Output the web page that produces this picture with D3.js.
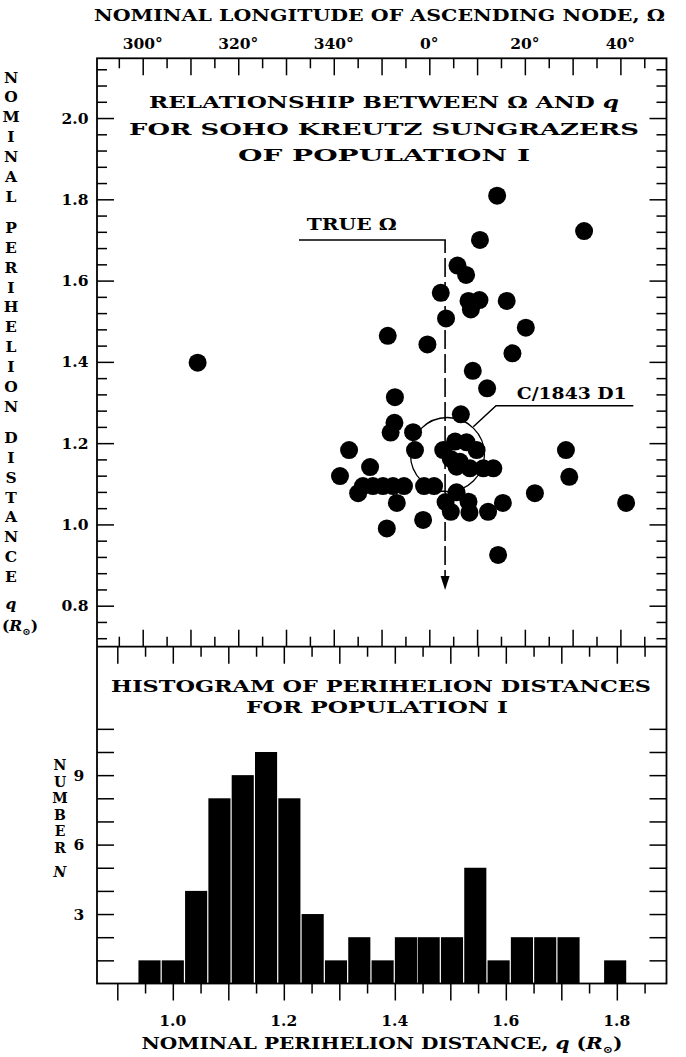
<!DOCTYPE html>
<html><head><meta charset="utf-8">
<script src="https://cdn.jsdelivr.net/npm/d3@7"></script>
<style>
body{margin:0;background:#fff}
text{font-family:"DejaVu Serif",serif;font-weight:bold;fill:#000}
</style></head>
<body><svg id="c" width="686" height="1057"></svg>
<script>
// ---------- DATA ----------
// Scatter: nominal longitude of ascending node (deg) and nominal perihelion distance (R_sun)
const nodeLongitude = [14.2, 32.4, 10.6, 5.9, 7.7, 2.4, 8.2, 10.5, 8.7, 16.2, 3.5, 20.2, 351.3, 359.6, 17.4, 9.1, 311.5, 12.1, 352.8, 6.6,
  352.7, 351.9, 356.6, 343.2, 357.0, 2.9, 5.4, 7.8, 9.9, 4.5, 6.4, 5.7, 8.5, 11.3, 13.4, 28.6, 29.3, 22.1, 15.4, 12.3,
  41.2, 14.4, 341.3, 347.6, 346.1, 348.2, 350.3, 352.4, 354.7, 358.9, 1.0, 345.1, 353.2, 358.7, 351.1, 5.7, 3.4, 8.2, 4.5, 8.4];
const perihelionQ = [1.809, 1.722, 1.700, 1.637, 1.614, 1.570, 1.550, 1.552, 1.529, 1.550, 1.507, 1.484, 1.464, 1.443, 1.421, 1.378, 1.398, 1.335, 1.313, 1.271,
  1.250, 1.226, 1.227, 1.183, 1.183, 1.183, 1.204, 1.202, 1.183, 1.161, 1.154, 1.142, 1.138, 1.138, 1.138, 1.183, 1.117, 1.077, 1.053, 1.031,
  1.053, 0.925, 1.119, 1.141, 1.0945, 1.0945, 1.0945, 1.0945, 1.0945, 1.0945, 1.0945, 1.077, 1.053, 1.011, 0.990, 1.079, 1.055, 1.056, 1.031, 1.029];
// Histogram of perihelion distances
const binStart = [0.937, 0.979, 1.021, 1.063, 1.105, 1.147, 1.189, 1.231, 1.273, 1.315, 1.357, 1.399, 1.440, 1.482, 1.524, 1.566, 1.608, 1.650, 1.692, 1.734, 1.776];
const binWidth = 0.042;
const binCounts = [1, 1, 4, 8, 9, 10, 8, 3, 1, 2, 1, 2, 2, 2, 5, 1, 2, 2, 2, 0, 1];
// Tick labels
const omegaTickValues = [300, 320, 340, 360, 380, 400];
const omegaTickLabels = ["300°", "320°", "340°", "0°", "20°", "40°"];
const qTickValues = [2.0, 1.8, 1.6, 1.4, 1.2, 1.0, 0.8];
const qTickLabels = ["2.0", "1.8", "1.6", "1.4", "1.2", "1.0", "0.8"];
const histXTickValues = [1.0, 1.2, 1.4, 1.6, 1.8];
const histXTickLabels = ["1.0", "1.2", "1.4", "1.6", "1.8"];
const countTickValues = [9, 6, 3];
const countTickLabels = ["9", "6", "3"];
// Annotations
const trueOmega = 3.3;
const c1843 = {omega: 3.8, q: 1.172};

// ---------- LAYOUT ----------
const svg = d3.select("#c");
const L = 97, R = 666.5, T = 58.3, M = 646.7, B = 983.5;
const unwrap = d => d < 180 ? d + 360 : d;
const x = d3.scaleLinear().domain([290.433, 409.651]).range([L, R]);
const y = d3.scaleLinear().domain([0.6991, 2.147]).range([M, T]);
const xh = d3.scaleLinear().domain([0.8634, 1.8895]).range([L, R]);
const yh = d3.scaleLinear().domain([0, 14.548]).range([B, M]);

const MAJ = 17, MIN = 10;
function ticks(axisFn, scale, vals, size, tr) {
  const g = svg.append("g").attr("transform", tr)
    .call(axisFn(scale).tickValues(vals).tickSize(size).tickFormat(""));
  g.select(".domain").remove();
  g.selectAll("line").attr("stroke", "#000").attr("stroke-width", 1.5);
  g.selectAll("text").remove();
}
const r2 = v => Math.round(v * 1000) / 1000;
const omMaj = d3.range(300, 410, 10);
const omMin = d3.range(295, 410, 10);
const qAll = d3.range(0.72, 2.14, 0.04).map(r2);
const qMaj = qAll.filter(v => Math.abs(v * 5 - Math.round(v * 5)) < 1e-6);
const qMin = qAll.filter(v => !qMaj.includes(v));
const hMaj = d3.range(0.9, 1.86, 0.1).map(r2);
const hMin = d3.range(0.95, 1.87, 0.1).map(r2);
const cTicks = d3.range(1, 12);

// histogram bars
svg.append("g").selectAll("rect").data(binStart).join("rect")
  .attr("x", (d) => xh(d) + 0.6)
  .attr("width", d => xh(d + binWidth) - xh(d) - 1.2)
  .attr("y", (d, i) => yh(binCounts[i]))
  .attr("height", (d, i) => B - yh(binCounts[i]))
  .attr("fill", "#000");

// top panel ticks
ticks(d3.axisBottom, x, omMaj, MAJ, `translate(0,${T})`);
ticks(d3.axisBottom, x, omMin, MIN, `translate(0,${T})`);
ticks(d3.axisTop, x, omMaj, MAJ, `translate(0,${M})`);
ticks(d3.axisTop, x, omMin, MIN, `translate(0,${M})`);
ticks(d3.axisRight, y, qMaj, MAJ, `translate(${L},0)`);
ticks(d3.axisRight, y, qMin, MIN, `translate(${L},0)`);
ticks(d3.axisLeft, y, qMaj, MAJ, `translate(${R},0)`);
ticks(d3.axisLeft, y, qMin, MIN, `translate(${R},0)`);
// histogram ticks
ticks(d3.axisBottom, xh, hMaj, MAJ, `translate(0,${M})`);
ticks(d3.axisBottom, xh, hMin, MIN, `translate(0,${M})`);
ticks(d3.axisBottom, xh, hMaj, MAJ, `translate(0,${B})`);
ticks(d3.axisBottom, xh, hMin, MIN, `translate(0,${B})`);
ticks(d3.axisRight, yh, cTicks, MAJ, `translate(${L},0)`);
ticks(d3.axisLeft, yh, cTicks, MAJ, `translate(${R},0)`);

// frame
svg.append("rect").attr("x", L).attr("y", T).attr("width", R - L).attr("height", B - T)
  .attr("fill", "none").attr("stroke", "#000").attr("stroke-width", 1.8);
svg.append("line").attr("x1", L).attr("x2", R).attr("y1", M).attr("y2", M)
  .attr("stroke", "#000").attr("stroke-width", 1.8);

// annotations: TRUE Omega
const xt = x(unwrap(trueOmega));
svg.append("path").attr("d", `M299,240H${xt}V253`).attr("fill", "none").attr("stroke", "#000").attr("stroke-width", 1.6);
svg.append("line").attr("x1", xt).attr("x2", xt).attr("y1", 253).attr("y2", 577)
  .attr("stroke", "#000").attr("stroke-width", 1.6).attr("stroke-dasharray", "0,5,19,0");
svg.append("path").attr("d", `M${xt - 4.5},576L${xt + 4.5},576L${xt},590Z`).attr("fill", "#000");
// C/1843 D1 circle
const cx = x(unwrap(c1843.omega)), cy = y(c1843.q);
svg.append("circle").attr("cx", cx).attr("cy", cy).attr("r", 37)
  .attr("fill", "none").attr("stroke", "#000").attr("stroke-width", 1.3);
svg.append("path").attr("d", `M473.3,426.7L496,405.7H633.3`).attr("fill", "none").attr("stroke", "#000").attr("stroke-width", 1.5);

// scatter points
svg.append("g").selectAll("circle").data(nodeLongitude).join("circle")
  .attr("cx", d => x(unwrap(d)))
  .attr("cy", (d, i) => y(perihelionQ[i]))
  .attr("r", 9).attr("fill", "#000");

// ---------- TEXT ----------
function rich(xs, ys, parts, size, len) {
  const t = svg.append("text").attr("x", xs).attr("y", ys).attr("font-size", size);
  parts.forEach(p => {
    const s = t.append("tspan").text(p.t);
    if (p.i) s.attr("font-style", "italic");
    if (p.fs) s.attr("font-size", p.fs);
    if (p.dy) s.attr("dy", p.dy);
  });
  if (len) t.attr("textLength", len).attr("lengthAdjust", "spacingAndGlyphs");
  return t;
}
rich(94, 21, [{t: "NOMINAL LONGITUDE OF ASCENDING NODE, Ω"}], 16.5, 571);
svg.append("g").selectAll("text").data(omegaTickValues).join("text")
  .attr("x", d => x(d)).attr("y", 48.5).attr("text-anchor", "middle").attr("font-size", 15.5)
  .text((d, i) => omegaTickLabels[i]);
svg.append("g").selectAll("text").data(qTickValues).join("text")
  .attr("x", 88.5).attr("y", d => y(d) + 5.5).attr("text-anchor", "end").attr("font-size", 15.5)
  .text((d, i) => qTickLabels[i]);
svg.append("g").selectAll("text").data(histXTickValues).join("text")
  .attr("x", d => xh(d)).attr("y", 1025.5).attr("text-anchor", "middle").attr("font-size", 15.5)
  .text((d, i) => histXTickLabels[i]);
svg.append("g").selectAll("text").data(countTickValues).join("text")
  .attr("x", 79).attr("y", d => yh(d) + 5.5).attr("text-anchor", "middle").attr("font-size", 15.5)
  .text((d, i) => countTickLabels[i]);

// panel titles
rich(384 - 235, 107.5, [{t: "RELATIONSHIP BETWEEN Ω AND "}, {t: "q", i: 1}], 17, 470);
rich(384 - 255, 134.5, [{t: "FOR SOHO KREUTZ SUNGRAZERS"}], 17, 510);
rich(384 - 146, 160.5, [{t: "OF POPULATION I"}], 17, 292);
rich(306.7, 230, [{t: "TRUE Ω"}], 17, 90);
rich(516.7, 399, [{t: "C/1843 D1"}], 17, 110);
rich(111, 692, [{t: "HISTOGRAM OF PERIHELION DISTANCES"}], 17, 540);
rich(246, 713, [{t: "FOR POPULATION I"}], 17, 262);
rich(141.4, 1049, [{t: "NOMINAL PERIHELION DISTANCE, "}, {t: "q", i: 1}, {t: " ("}, {t: "R", i: 1}, {t: "⊙", fs: 10, dy: 4}, {t: ")", dy: -4}], 16.5, 481);

// stacked vertical titles (one text element per column, one tspan per letter)
function stack(items, cxp, size) {
  const t = svg.append("text").attr("text-anchor", "middle").attr("font-size", size);
  items.forEach(it => {
    const s = t.append("tspan").attr("x", cxp).attr("y", it.y + 0.36 * size).text(it.ch);
    if (it.i) s.attr("font-style", "italic");
  });
}
function layoutWords(words, y0, pitch, gap) {
  const out = [];
  let yy = y0;
  words.forEach((w, wi) => {
    if (wi > 0) yy += gap;
    w.split("").forEach(ch => { out.push({ch, y: yy}); yy += pitch; });
  });
  return out;
}
const col1 = layoutWords(["NOMINAL", "PERIHELION", "DISTANCE"], 77, 19.9, 11);
col1.push({ch: "q", y: 603, i: 1});
stack(col1, 11, 15.5);
rich(2, 631, [{t: "("}, {t: "R", i: 1}, {t: "⊙", fs: 10, dy: 4}, {t: ")", dy: -4}], 15.5);
const col2 = layoutWords(["NUMBER"], 765, 16.6, 0);
col2.push({ch: "N", y: 872, i: 1});
stack(col2, 60, 14);
</script></body></html>
